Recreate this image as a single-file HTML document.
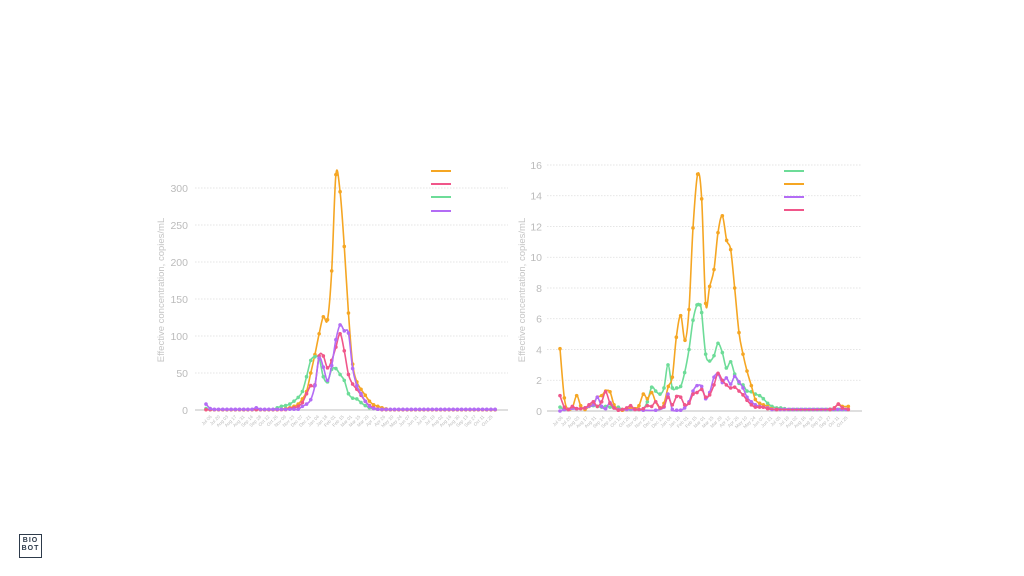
<!DOCTYPE html>
<html><head><meta charset="utf-8"><style>
html,body{margin:0;padding:0;background:#fff;width:1024px;height:576px;overflow:hidden;font-family:"Liberation Sans",sans-serif}
#logo{position:absolute;left:19px;top:534px;width:21px;height:20px;border:1.5px solid #2d3a4a;font-size:7px;font-weight:bold;color:#2d3a4a;text-align:center;line-height:8px;padding-top:2px;letter-spacing:1px}
</style></head><body>
<svg id="s" width="1024" height="576" style="position:absolute;left:0;top:0"></svg>
<div id="logo">BIO<br>BOT</div>
<script>
const NS="http://www.w3.org/2000/svg";const s=document.getElementById('s');
function el(t,a,txt){const e=document.createElementNS(NS,t);for(const k in a)e.setAttribute(k,a[k]);if(txt!=null)e.textContent=txt;s.appendChild(e);return e;}
const C={o:"#f5a623",p:"#f0568a",g:"#6ddc98",v:"#b36cf5"};
const labels="Jul 06,Jul 20,Aug 03,Aug 17,Aug 31,Sep 14,Sep 28,Oct 12,Oct 26,Nov 09,Nov 23,Dec 07,Dec 21,Jan 04,Jan 18,Feb 01,Feb 15,Mar 01,Mar 15,Mar 29,Apr 12,Apr 26,May 10,May 24,Jun 07,Jun 21,Jul 05,Jul 19,Aug 02,Aug 16,Aug 30,Sep 13,Sep 27,Oct 11,Oct 25".split(",");
function path(pts){let d="M"+pts[0][0]+","+pts[0][1];for(let i=0;i<pts.length-1;i++){const p0=pts[i-1]||pts[i],p1=pts[i],p2=pts[i+1],p3=pts[i+2]||p2;
const c1=[p1[0]+(p2[0]-p0[0])/6,p1[1]+(p2[1]-p0[1])/6],c2=[p2[0]-(p3[0]-p1[0])/6,p2[1]-(p3[1]-p1[1])/6];d+=` C${c1[0]},${c1[1]} ${c2[0]},${c2[1]} ${p2[0]},${p2[1]}`;}return d;}
function series(pts,col){el('path',{d:path(pts),fill:'none',stroke:col,'stroke-width':1.6});pts.forEach(p=>el('circle',{cx:p[0],cy:p[1],r:1.8,fill:col}));}
function axes(x0,x1,y0,step,vals,tx,titleX,lx0,lx1){
 vals.forEach((v,i)=>{const y=y0-i*step;if(i>0)el('line',{x1:x0,x2:x1,y1:y,y2:y,stroke:'#ddd','stroke-dasharray':'1.5,1.5','stroke-width':0.8});
 el('text',{x:tx,y:y+3.8,'text-anchor':'end','font-size':10.5,fill:'#bbb'},v);});
 el('line',{x1:x0,x2:x1,y1:y0,y2:y0,stroke:'#ccc','stroke-width':1.2});
 el('text',{x:titleX,y:290,'font-size':9.5,fill:'#c4c4c4','text-anchor':'middle',transform:`rotate(-90 ${titleX} 290)`},'Effective concentration, copies/mL');
 labels.forEach((l,i)=>{const x=lx0+i*(lx1-lx0)/(labels.length-1),y=y0+7;el('text',{x:x,y:y,'font-size':4.6,fill:'#bbb','text-anchor':'end',transform:`rotate(-45 ${x} ${y})`},l);});
}
axes(195,508,410,37,["0","50","100","150","200","250","300"],188,164,212,493);
axes(547,862,411,30.75,["0","2","4","6","8","10","12","14","16"],542,525,563,848);
function mk(obj,n){const a=new Array(70).fill(n);for(const k in obj)a[k]=obj[k];return a.map((v,i)=>[206+i*4.19,410-v*0.74]);}
const o1=mk({18:1,19:2,20:3,21:5,22:8,23:15,24:25,25:50,26:75,27:103,28:126,29:122,30:188,31:318,32:295,33:221,34:131,35:62,36:38,37:28,38:20,39:12,40:7,41:5,42:3,43:1.5},0.5);
const g1=mk({0:2,17:3,18:5,19:6,20:8,21:12,22:17,23:25,24:45,25:67,26:72,27:70,28:45,29:38,30:55,31:56,32:48,33:40,34:22,35:16,36:15,37:10,38:6,39:3,40:2,41:1},0.5);
const p1=mk({20:2,21:3,22:5,23:10,24:22,25:33,26:34,27:73,28:73,29:57,30:67,31:85,32:103,33:80,34:48,35:35,36:28,37:20,38:12,39:6,40:3,41:1},0.5);
const v1=mk({0:8,1:2,12:3,23:5,24:8,25:14,26:33,27:70,28:58,29:40,30:60,31:95,32:115,33:107,34:104,35:56,36:33,37:22,38:12,39:5,40:2,41:1},1);
series(o1,C.o);series(g1,C.g);series(p1,C.p);series(v1,C.v);
[[171,C.o],[184,C.p],[197,C.g],[211,C.v]].forEach(a=>el('line',{x1:431,x2:451,y1:a[0],y2:a[0],stroke:a[1],'stroke-width':2}));
function cv(list,tail){let a=list.slice();const last=a[a.length-1][0];for(let x=last+12.3;x<=1015;x+=12.3)a.push([x,tail]);return a.map(p=>[510+p[0]/3,411-p[1]*15.375]);}
const o2=cv([[150,4.05],[163,0.85],[175,0.1],[187,0.2],[200,1.0],[212,0.35],[225,0.1],[237,0.3],[250,0.5],[262,0.9],[275,1.0],[287,1.3],[300,1.25],[312,0.4],[325,0.1],[337,0.05],[350,0.1],[362,0.2],[375,0.15],[387,0.35],[400,1.1],[412,0.8],[425,1.2],[437,0.6],[450,0.2],[462,0.5],[475,1.6],[487,2.2],[499,4.8],[512,6.2],[525,4.6],[537,6.6],[549,11.9],[563,15.4],[575,13.8],[587,7.0],[599,8.1],[612,9.2],[624,11.6],[637,12.7],[650,11.1],[662,10.5],[674,8.0],[687,5.1],[699,3.7],[711,2.6],[724,1.65],[736,0.75],[749,0.5],[760,0.4],[773,0.3],[786,0.15],[800,0.1],[960,0.1],[973,0.2],[985,0.45],[997,0.3],[1015,0.3]],0.3);
const g2=cv([[150,0.25],[163,0.1],[175,0.1],[200,0.15],[225,0.2],[250,0.35],[262,0.3],[275,0.25],[287,0.3],[300,0.25],[312,0.2],[325,0.25],[337,0.1],[362,0.1],[387,0.1],[400,0.15],[412,0.6],[425,1.55],[437,1.3],[450,1.1],[462,1.5],[474,3.0],[487,1.5],[500,1.5],[512,1.6],[524,2.5],[537,4.0],[549,5.9],[561,6.9],[570,6.9],[575,6.4],[587,3.7],[599,3.25],[612,3.6],[624,4.4],[637,3.8],[649,2.8],[662,3.2],[674,2.4],[687,1.8],[699,1.7],[711,1.3],[724,1.25],[736,1.1],[749,1.0],[760,0.8],[773,0.5],[786,0.3],[800,0.2],[812,0.2],[824,0.15],[840,0.1]],0.1);
const v2=cv([[150,0.0],[163,0.1],[175,0.1],[200,0.15],[225,0.2],[250,0.4],[262,0.9],[275,0.3],[287,0.15],[300,0.55],[312,0.2],[325,0.1],[350,0.1],[400,0.05],[437,0.05],[462,0.25],[474,1.1],[487,0.1],[500,0.05],[512,0.05],[524,0.2],[537,0.6],[549,1.3],[561,1.65],[575,1.6],[587,0.8],[599,1.2],[612,2.2],[624,2.4],[637,1.85],[649,2.15],[662,1.75],[674,2.25],[687,1.9],[699,1.5],[711,0.9],[724,0.6],[736,0.4],[749,0.3],[760,0.25],[773,0.2],[786,0.1]],0.1);
const p2=cv([[150,1.0],[163,0.25],[175,0.1],[187,0.3],[200,0.15],[212,0.15],[225,0.2],[237,0.4],[250,0.6],[262,0.3],[275,0.6],[287,1.25],[300,0.5],[312,0.2],[325,0.05],[337,0.1],[350,0.2],[362,0.35],[375,0.1],[387,0.1],[400,0.15],[412,0.35],[425,0.3],[437,0.6],[450,0.2],[462,0.3],[474,0.9],[487,0.4],[500,0.95],[512,0.9],[524,0.4],[537,0.5],[549,1.1],[561,1.2],[575,1.4],[587,0.9],[599,1.05],[612,1.7],[624,2.45],[637,2.0],[649,1.7],[662,1.5],[674,1.55],[687,1.3],[699,1.05],[711,0.7],[724,0.4],[736,0.25],[749,0.25],[760,0.25],[773,0.15],[800,0.1],[960,0.1],[973,0.2],[985,0.45],[997,0.2],[1015,0.1]],0.1);
series(g2,C.g);series(o2,C.o);series(v2,C.v);series(p2,C.p);
[[171,C.g],[184,C.o],[197,C.v],[210,C.p]].forEach(a=>el('line',{x1:784,x2:804,y1:a[0],y2:a[0],stroke:a[1],'stroke-width':2}));
</script>
</body></html>
